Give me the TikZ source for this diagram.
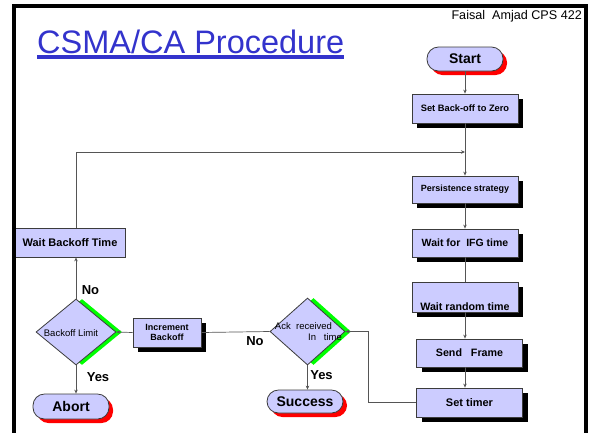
\documentclass[tikz,border=0pt]{standalone}
\usepackage{fontspec}
\setmainfont{Liberation Sans}
\usetikzlibrary{shapes.geometric,shadows,arrows.meta}

\definecolor{boxfill}{RGB}{204,204,255}
\definecolor{titleblue}{RGB}{51,51,204}
\definecolor{edgegray}{RGB}{60,60,60}
\definecolor{linegray}{RGB}{85,85,85}

\newcommand{\fs}[1]{\fontsize{#1}{#1}\selectfont}

\tikzset{
  plainbox/.style={draw=edgegray, fill=boxfill, line width=0.8pt,
    minimum width=106pt, minimum height=28pt, inner sep=0pt,
    font=\bfseries\fs{9}, align=center},
  stepbox/.style={plainbox,
    drop shadow={shadow xshift=5pt, shadow yshift=-5pt, fill=black, opacity=1}},
  terminal/.style={draw=edgegray, fill=boxfill, line width=0.8pt,
    rounded corners=11.5pt, minimum width=76pt, minimum height=24pt,
    inner sep=0pt, font=\bfseries\fs{14},
    drop shadow={shadow xshift=4pt, shadow yshift=-4pt, fill=red, opacity=1}},
  decision/.style={diamond, draw=edgegray, fill=boxfill, line width=0.8pt,
    minimum width=80pt, minimum height=66pt, inner sep=0pt,
    drop shadow={shadow xshift=6pt, shadow yshift=0pt, fill=green, opacity=1}},
  dtext/.style={font=\fs{9.5}, inner sep=0pt},
  answer/.style={font=\bfseries\fs{13}, inner sep=0pt},
  flow/.style={draw=linegray, line width=0.7pt},
  arr/.style={flow, -{Stealth[length=4pt,width=3.5pt]}},
}

\begin{document}
\begin{tikzpicture}[x=1pt,y=-1pt]
\useasboundingbox (0,0) rectangle (589,432);

% heading
\node[anchor=base west, text=titleblue, font=\fs{32.5}, inner sep=0pt]
  (title) at (37,53) {CSMA/CA Procedure};
\fill[titleblue] (36.5,55) rectangle (344,59);
\node[anchor=base east, font=\fs{12.6}, inner sep=0pt]
  (author) at (582,19) {Faisal\ \ Amjad CPS 422};

% main column
\node[terminal] (start) at (465,59) {Start};
\node[stepbox, minimum height=29pt, font=\bfseries\fs{9.3}] (zero) at (465,108.5) {Set Back-off to Zero};
\node[stepbox, minimum height=27pt] (persist) at (465,189.5) {Persistence strategy};
\node[stepbox, font=\bfseries\fs{10.5}] (ifg) at (465,243) {Wait for\ \ IFG time};
\node[stepbox, minimum height=30pt, text height=26pt, text depth=0pt,
  font=\bfseries\fs{10.7}] (rand) at (465,297) {Wait random time};
\node[stepbox, font=\bfseries\fs{10.7}] (send) at (469.5,353) {Send\ \ \ Frame};
\node[stepbox, minimum height=29pt, font=\bfseries\fs{11}] (timer) at (469.5,402.5) {Set timer};

% retry branch
\node[plainbox, minimum width=110pt, minimum height=29pt, font=\bfseries\fs{11}]
  (waitb) at (70,242.5) {Wait Backoff Time};
\node[decision] (limit) at (76,332) {};
\node[dtext] (limittext) at (71,333) {Backoff Limit};
\node[stepbox, minimum width=68pt, minimum height=29pt, font=\bfseries\fs{9}]
  (incr) at (167,332.5) {Increment\\[1pt]Backoff};
\node[decision, minimum width=75pt, minimum height=67pt] (ack) at (307.5,331.5) {};
\node[dtext] (acka) at (303.5,326) {Ack\ \ received};
\node[dtext] (ackb) at (325,337.5) {In\ \ \ time};
\node[terminal, minimum height=23pt] (success) at (305,401.5) {Success};
\node[terminal, minimum height=25pt] (abort) at (71,406.5) {Abort};

% answers
\node[answer] (no1) at (90.5,290.5) {No};
\node[answer] (yes1) at (98,377) {Yes};
\node[answer] (no2) at (255,341.5) {No};
\node[answer] (yes2) at (321.5,375) {Yes};

% connectors
\coordinate (merge) at (465,152);
\draw[arr] (start) -- (zero);
\draw[arr] (zero) -- (persist);
\draw[arr] (persist) -- (ifg);
\draw[flow] (ifg) -- (rand);
\draw[arr] (rand.south) -- (rand.south |- send.north);
\draw[arr] (rand.south |- send.south) -- (rand.south |- timer.north);
\draw[arr] (timer.west) -| ([xshift=23pt]ack.east) -- (ack.east);
\draw[flow] (ack.west) -- (incr.east);
\draw[arr] (incr.west) -- (limit.east);
\draw[arr] (limit.north) -- (limit.north |- waitb.south);
\draw[arr] (limit.north |- waitb.north) |- (merge);
\draw[arr] (limit.south) -- (limit.south |- abort.north);
\draw[arr] (ack.south) -- (ack.south |- success.north);

% slide frame
\draw[line width=4pt] (14,440) -- (14,5.5) -- (586,5.5) -- (586,440);
\end{tikzpicture}
\end{document}
